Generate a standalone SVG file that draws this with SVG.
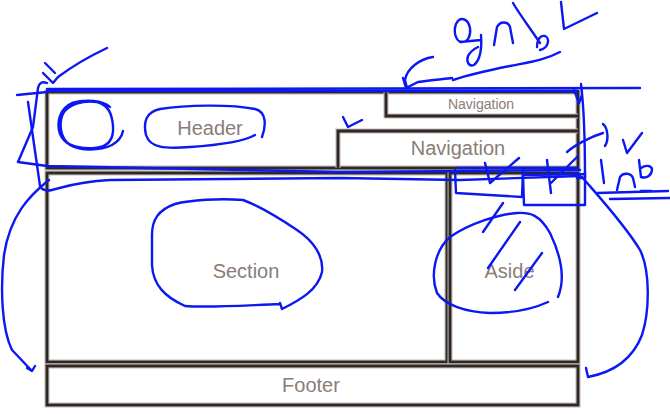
<svg xmlns="http://www.w3.org/2000/svg" width="670" height="414" viewBox="0 0 670 414">
<style>
.halo{fill:none;stroke:#bdb7b2;stroke-width:5}
.frame{fill:none;stroke:#2d2825;stroke-width:2.8}
.lbl{font-family:"Liberation Sans",Arial,sans-serif;fill:#8a7d76;text-anchor:middle}
.ink{fill:none;stroke:#0b18f2;stroke-width:2.4;stroke-linecap:round;stroke-linejoin:round}
</style>
<rect width="670" height="414" fill="#fff"/>
<g id="header">
<rect x="47" y="92" width="531" height="76" class="halo"/>
<rect x="47" y="92" width="531" height="76" class="frame"/>
<text x="210" y="135" font-size="20" class="lbl">Header</text>
</g>
<g id="nav-small">
<path d="M386,92 V116 H578" class="halo"/>
<path d="M386,92 V116 H578" class="frame"/>
<text x="481" y="109" font-size="14" class="lbl">Navigation</text>
</g>
<g id="nav-large">
<path d="M578,131 H338 V168" class="halo"/>
<path d="M578,131 H338 V168" class="frame"/>
<text x="458" y="155" font-size="20" class="lbl">Navigation</text>
</g>
<g id="section">
<rect x="47" y="173" width="400" height="189" class="halo"/>
<rect x="47" y="173" width="400" height="189" class="frame"/>
<text x="246" y="278" font-size="20" class="lbl">Section</text>
</g>
<g id="aside">
<rect x="450" y="173" width="128" height="189" class="halo"/>
<rect x="450" y="173" width="128" height="189" class="frame"/>
<text x="509.5" y="278" font-size="20" class="lbl">Aside</text>
</g>
<g id="footer">
<rect x="47" y="366" width="531" height="39" class="halo"/>
<rect x="47" y="366" width="531" height="39" class="frame"/>
<text x="311" y="392" font-size="20" class="lbl">Footer</text>
</g>
<g id="connectors" class="ink">
<path d="M45,63 L55,73 M43,73 L53,83 L58,77 C70,68 88,57 107,48"/>
<path d="M17,95 L47,92 M47,89 L640,88 M47,90.5 L578,91"/>
<path d="M47,83 Q40,80 38,88 L33,127 L18,162 L47,166 L340,172 L580,170"/>
<path d="M28,102 L40,186 Q43,192 52,190 C65,187 75,182 110,180 L340,178 L460,180 L580,176"/>
<path d="M49,180 C30,195 10,215 4,255 C0,290 2,330 12,350 L32,371 M27,368 L32,371 L35,366"/>
<path d="M110,107 C103,100 85,99 72,103 C60,108 56,122 60,134 C65,146 80,149 95,148 C108,147 114,140 113,126 C112,113 108,105 97,102 C83,100 70,104 64,112 C58,122 60,138 70,145 C80,151 100,151 112,145 C119,141 122,136 123,131"/>
<path d="M255,135 C243,142 220,145 190,147 C165,149 150,148 146,135 C143,122 146,112 160,109 C185,105 230,104 255,109 C267,112 266,126 262,137"/>
<path d="M433,57 C420,59 407,68 405,80 L407,88 M403,78 L406,88 L418,82 C430,80 445,79 452,78"/>
<path d="M453,80 C465,76 480,72 510,66 C530,62 545,60 560,52"/>
<path d="M470,28 C468,18 460,16 456,24 C453,32 456,42 462,42 C468,42 471,36 470,28 M460,42 L481,40 M481,35 C482,48 480,60 474,65 C469,67 466,62 468,56 C470,52 474,49 478,47"/>
<path d="M494,45 L497,27 C500,21 508,21 510,27 L513,43"/>
<path d="M513,3 C520,15 530,28 540,43 M537,47 C537,40 540,35 545,36 C550,38 549,48 540,50"/>
<path d="M561,2 L564,29 L597,13"/>
<path d="M343,117 L348,127 L362,120"/>
<path d="M574,90 L579,103 L582,95 M581,84 C583,100 585,140 585,178 L577,178"/>
<path d="M458,168 L578,168"/>
<path d="M455,170 L456,193 L522,197 L523,170"/>
<path d="M523,175 L584,174 M523,175 L524,205 L585,205 L585,172"/>
<path d="M485,163 L490,183 L519,158"/>
<path d="M547,160 L551,193 M551,183 L578,156 M567,152 C575,145 590,137 603,133 M603,124 C608,128 609,140 605,146"/>
<path d="M623,140 L627,153 L642,133"/>
<path d="M601,160 L604,183"/>
<path d="M617,190 L620,177 C623,172 631,173 633,178 L635,187"/>
<path d="M639,160 L641,177 C647,179 652,175 652,169 C651,165 645,165 641,168"/>
<path d="M597,193 L668,191 M610,199 L670,198 M641,191 L651,191"/>
<path d="M582,177 C600,198 625,225 640,250 C650,270 650,310 642,335 C633,358 615,372 588,377 L586,368"/>
<path d="M558,297 C565,280 562,258 550,233 C540,215 530,212 517,213 C500,214 470,223 450,237 C435,250 430,275 437,293 C445,305 465,312 490,313 C515,313 535,308 548,302"/>
<path d="M503,203 L483,232 M520,222 L488,268 M542,253 L515,290"/>
<path d="M280,303 L282,309 C300,300 318,290 322,272 C324,255 312,240 297,230 C282,220 262,207 243,200 C220,198 190,200 175,204 C158,210 152,220 152,235 L152,265 C153,285 165,297 185,306 C210,308 250,305 280,304"/>
</g>
</svg>
